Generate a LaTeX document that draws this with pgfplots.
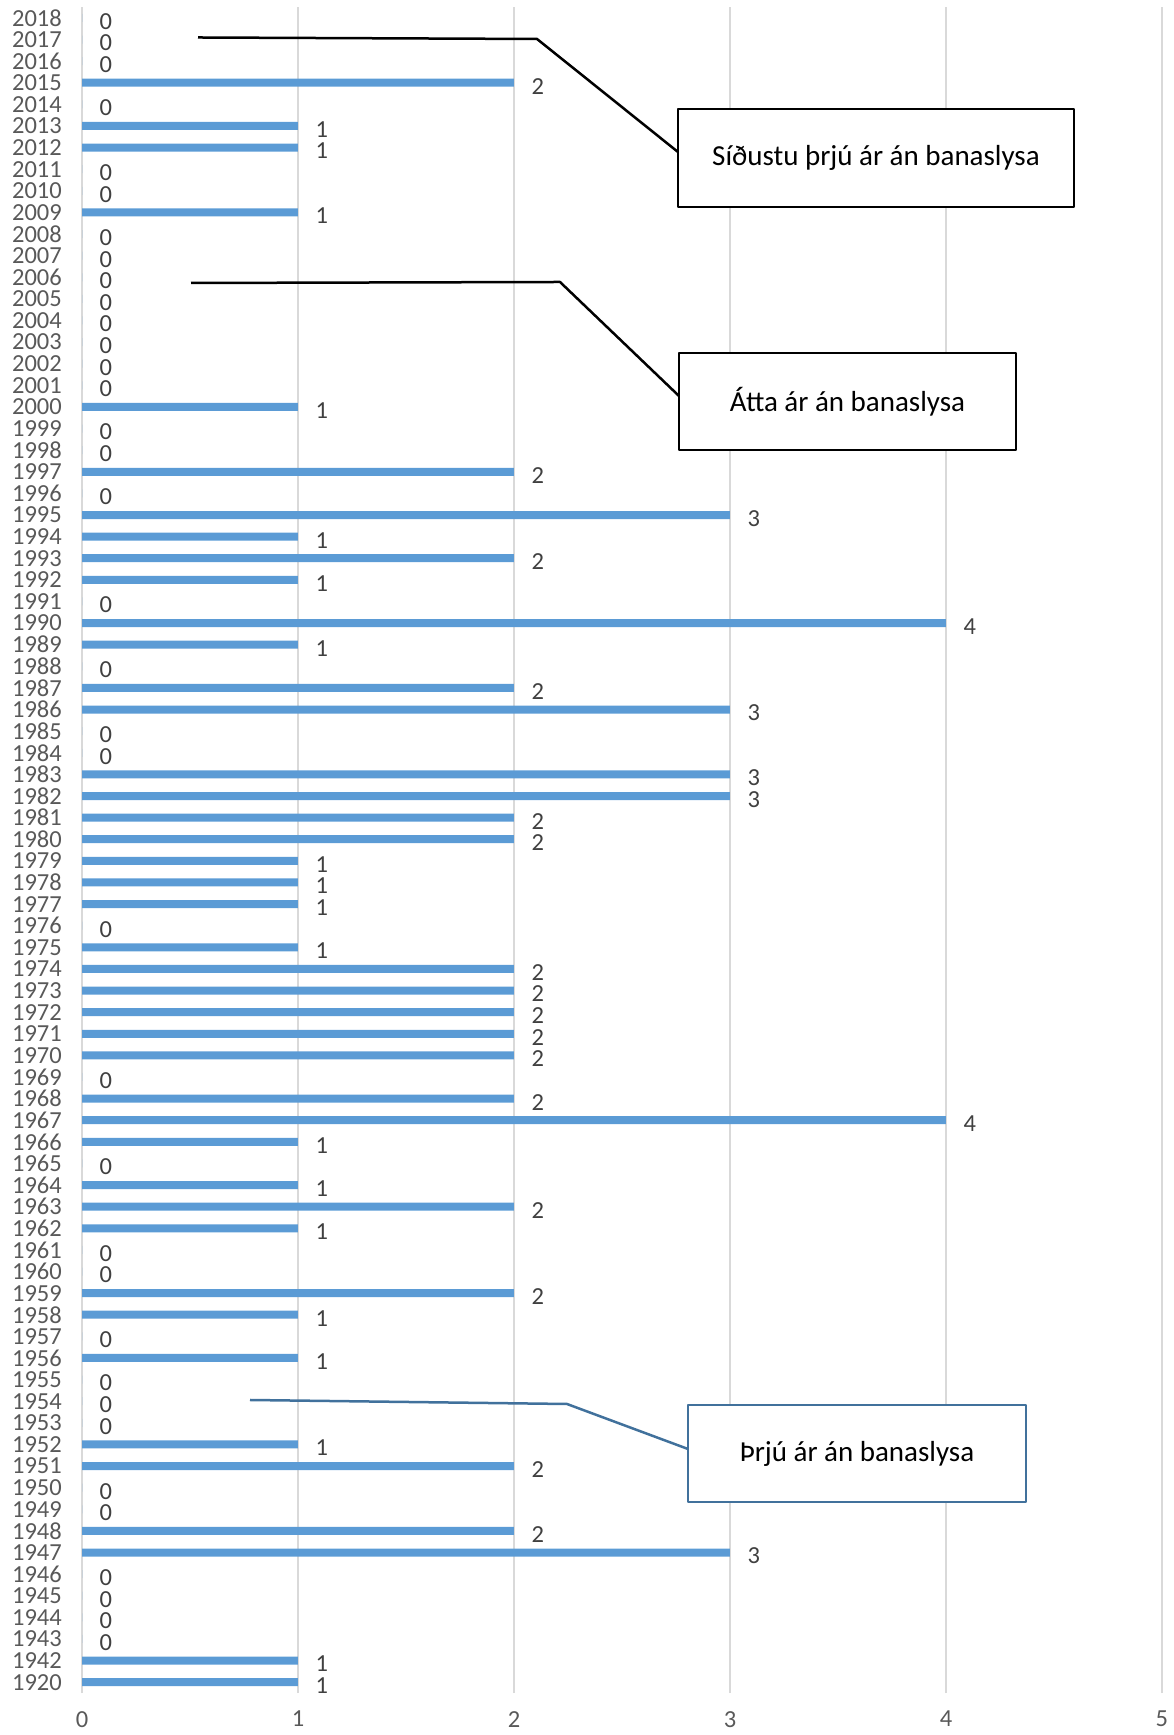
\documentclass[border=0pt]{standalone}
\usepackage{fontspec}
\setmainfont{Carlito}
\usepackage{pgfplots}
\usepackage{pgfplotstable}
\pgfplotsset{compat=1.18}

\definecolor{barblue}{HTML}{5B9BD5}
\definecolor{gridgray}{HTML}{D9D9D9}
\definecolor{ticktext}{HTML}{595959}
\definecolor{labeltext}{HTML}{404040}
\definecolor{calloutblue}{HTML}{41719C}

% Fatal accidents per year
\pgfplotstableread{
year val
1920 1
1942 1
1943 0
1944 0
1945 0
1946 0
1947 3
1948 2
1949 0
1950 0
1951 2
1952 1
1953 0
1954 0
1955 0
1956 1
1957 0
1958 1
1959 2
1960 0
1961 0
1962 1
1963 2
1964 1
1965 0
1966 1
1967 4
1968 2
1969 0
1970 2
1971 2
1972 2
1973 2
1974 2
1975 1
1976 0
1977 1
1978 1
1979 1
1980 2
1981 2
1982 3
1983 3
1984 0
1985 0
1986 3
1987 2
1988 0
1989 1
1990 4
1991 0
1992 1
1993 2
1994 1
1995 3
1996 0
1997 2
1998 0
1999 0
2000 1
2001 0
2002 0
2003 0
2004 0
2005 0
2006 0
2007 0
2008 0
2009 1
2010 0
2011 0
2012 1
2013 1
2014 0
2015 2
2016 0
2017 0
2018 0
}\data

\begin{document}
\begin{tikzpicture}[x=1pt,y=1pt]
\path[use as bounding box] (0,0) rectangle (1173,1735);
\begin{axis}[
  at={(82pt,42pt)}, anchor=south west,
  scale only axis,
  width=1080pt, height=1686pt,
  xmin=0, xmax=5, ymin=-0.5, ymax=77.5,
  xtick={0,1,2,3,4,5},
  ytick=data,
  yticklabels from table={\data}{year},
  xmajorgrids,
  grid style={draw=gridgray, line width=1.6pt},
  axis line style={draw=none},
  tick style={draw=none},
  major tick length=0pt,
  /pgf/number format/assume math mode=true,
  tick label style={font=\fontsize{24.5}{29}\selectfont, text=ticktext, inner sep=0pt},
  yticklabel style={anchor=east, xshift=-20pt},
  xticklabel style={anchor=north, yshift=-18pt},
  xbar, bar width=8pt,
  nodes near coords,
  nodes near coords style={font=\fontsize{24.5}{29}\selectfont, text=labeltext,
    anchor=west, inner sep=0pt, xshift=17.5pt, yshift=-3.5pt},
  clip=false,
]
\addplot[draw=none, fill=barblue] table[x=val, y expr=\coordindex] {\data};
\end{axis}

% Callouts
\begin{scope}[line width=2.5pt, line join=round]
  \draw[black] (198,1697.5) -- (537,1696) -- (678,1583);
  \node[draw=black, fill=white, minimum width=396pt, minimum height=98pt,
        font=\fontsize{29}{35}\selectfont, text=black]
        at (876,1577) {Síðustu þrjú ár án banaslysa};

  \draw[black] (191,1452) -- (560,1453) -- (679,1339);
  \node[draw=black, fill=white, minimum width=337pt, minimum height=97pt,
        font=\fontsize{29}{35}\selectfont, text=black]
        at (847.5,1333.5) {Átta ár án banaslysa};

  \draw[calloutblue] (250,335) -- (567,331) -- (688,286);
  \node[draw=calloutblue, fill=white, minimum width=338pt, minimum height=97pt,
        font=\fontsize{29}{35}\selectfont, text=black]
        at (857,281.5) {Þrjú ár án banaslysa};
\end{scope}
\end{tikzpicture}
\end{document}
